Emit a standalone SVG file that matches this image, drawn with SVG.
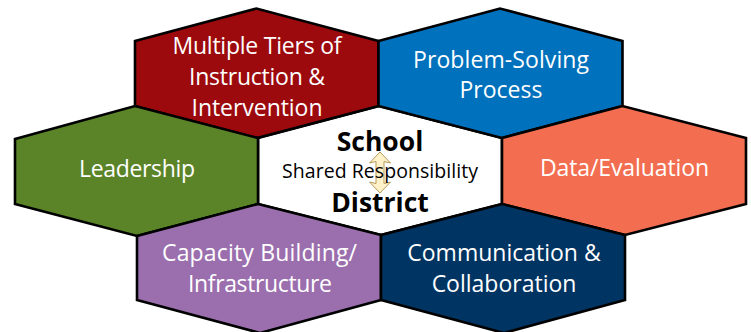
<svg xmlns="http://www.w3.org/2000/svg" width="751" height="332" viewBox="0 0 751 332">
<style>
.hex{stroke:#000;stroke-width:2.6;stroke-linejoin:miter}
text{font-family:"Open Sans","Noto Sans",sans-serif;text-anchor:middle}
.w{fill:#fff;font-size:23px}
.b{fill:#000;font-size:26.500px;font-weight:700}
.s{fill:#000;font-size:19.500px}
</style>
<rect width="751" height="332" fill="#fff"/>
<g id="connectors"><polygon fill="#fff2c8" stroke="#b59a5a" stroke-width="1" points="380,152 369.500,163 376,161.500 376,183.500 369.500,182 380,193 390.500,182 384,183.500 384,161.500 390.500,163"/></g>
<g id="center"><polygon class="hex" fill="none" points="258,138 379,106 502,138 502,204 381,235 258,204"/>
<text class="b" x="380" y="151">School</text>
<text class="s" x="380" y="178" textLength="196">Shared Responsibility</text>
<text class="b" x="380" y="212">District</text></g>
<g id="tiers"><polygon class="hex" fill="#9c0a0e" points="135,41 256.500,8.500 378.500,41 378.500,106 257,138 135,106"/>
<text class="w" x="257" y="54" textLength="169">Multiple Tiers of</text>
<text class="w" x="257" y="85" textLength="136">Instruction &amp;</text>
<text class="w" x="257" y="116" textLength="131">Intervention</text></g>
<g id="problem"><polygon class="hex" fill="#0071bc" points="378.500,41 500,8.500 622.500,41 622.500,106 502,138 378.500,106"/>
<text class="w" x="501" y="67.500" textLength="176">Problem-Solving</text>
<text class="w" x="501" y="97.500">Process</text></g>
<g id="leadership"><polygon class="hex" fill="#5b8428" points="15,139 135,106 258,138 258,204 137,236 15,204"/>
<text class="w" x="137" y="177" textLength="116">Leadership</text></g>
<g id="data"><polygon class="hex" fill="#f36e50" points="502,138 622.500,106 746,138 746,204 625,235 502,204"/>
<text class="w" x="624.500" y="176" textLength="169">Data/Evaluation</text></g>
<g id="capacity"><polygon class="hex" fill="#9b6fae" points="137,236 258,204 381,235 381,300 260,333 137,300"/>
<text class="w" x="259.500" y="261" textLength="195">Capacity Building/</text>
<text class="w" x="260" y="292" textLength="144">Infrastructure</text></g>
<g id="communication"><polygon class="hex" fill="#003462" points="381,235 502,204 625,235 625,300 504,333 381,300"/>
<text class="w" x="504" y="261">Communication &amp;</text>
<text class="w" x="504" y="292">Collaboration</text></g>
</svg>
